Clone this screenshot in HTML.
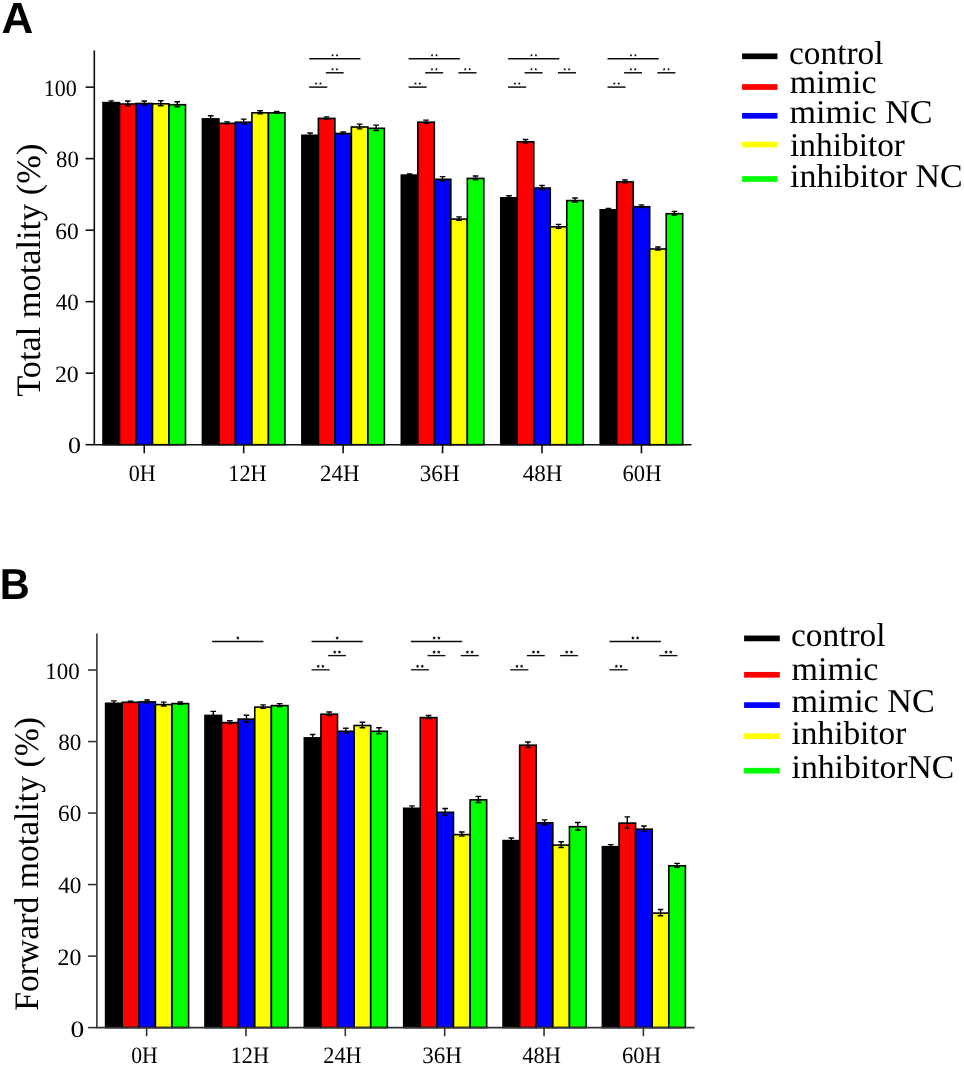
<!DOCTYPE html><html><head><meta charset="utf-8"><style>html,body{margin:0;padding:0;background:#fff;overflow:hidden;}svg{display:block;}text{text-rendering:geometricPrecision;}.s{font-family:"Liberation Serif",serif;fill:#000;}.b{font-family:"Liberation Sans",sans-serif;font-weight:bold;fill:#000;}</style></head><body>
<svg width="964" height="1066" viewBox="0 0 964 1066">
<rect width="964" height="1066" fill="#fff"/>
<defs><filter id="bl" x="0" y="0" width="964" height="1066" filterUnits="userSpaceOnUse"><feGaussianBlur stdDeviation="0.5"/></filter></defs><g filter="url(#bl)">
<rect x="103" y="102.6" width="16.5" height="342.1" fill="#000000" stroke="#000" stroke-width="1.6"/>
<rect x="119.5" y="104" width="16.5" height="340.7" fill="#ff0000" stroke="#000" stroke-width="1.6"/>
<rect x="136" y="103.5" width="16.5" height="341.2" fill="#0000ff" stroke="#000" stroke-width="1.6"/>
<rect x="152.5" y="103.8" width="16.5" height="340.9" fill="#ffff00" stroke="#000" stroke-width="1.6"/>
<rect x="169" y="104.7" width="16.5" height="340" fill="#00ff00" stroke="#000" stroke-width="1.6"/>
<path d="M111.25 100.85V103.35M108.45 100.85H114.05M108.45 103.35H114.05" stroke="#000" stroke-width="1.4" fill="none"/>
<path d="M127.75 101V106M124.95 101H130.55M124.95 106H130.55" stroke="#000" stroke-width="1.4" fill="none"/>
<path d="M144.25 101.05V104.95M141.45 101.05H147.05M141.45 104.95H147.05" stroke="#000" stroke-width="1.4" fill="none"/>
<path d="M160.75 100.8V105.8M157.95 100.8H163.55M157.95 105.8H163.55" stroke="#000" stroke-width="1.4" fill="none"/>
<path d="M177.25 101.7V106.7M174.45 101.7H180.05M174.45 106.7H180.05" stroke="#000" stroke-width="1.4" fill="none"/>
<rect x="202.44" y="118.9" width="16.5" height="325.8" fill="#000000" stroke="#000" stroke-width="1.6"/>
<rect x="218.94" y="123.3" width="16.5" height="321.4" fill="#ff0000" stroke="#000" stroke-width="1.6"/>
<rect x="235.44" y="122.2" width="16.5" height="322.5" fill="#0000ff" stroke="#000" stroke-width="1.6"/>
<rect x="251.94" y="112.8" width="16.5" height="331.9" fill="#ffff00" stroke="#000" stroke-width="1.6"/>
<rect x="268.44" y="112.8" width="16.5" height="331.9" fill="#00ff00" stroke="#000" stroke-width="1.6"/>
<path d="M210.69 115.75V121.05M207.89 115.75H213.49M207.89 121.05H213.49" stroke="#000" stroke-width="1.4" fill="none"/>
<path d="M227.19 121.85V123.75M224.39 121.85H229.99M224.39 123.75H229.99" stroke="#000" stroke-width="1.4" fill="none"/>
<path d="M243.69 119.15V124.25M240.89 119.15H246.49M240.89 124.25H246.49" stroke="#000" stroke-width="1.4" fill="none"/>
<path d="M260.19 110.75V113.85M257.39 110.75H262.99M257.39 113.85H262.99" stroke="#000" stroke-width="1.4" fill="none"/>
<path d="M276.69 111.35V113.25M273.89 111.35H279.49M273.89 113.25H279.49" stroke="#000" stroke-width="1.4" fill="none"/>
<rect x="301.88" y="135.3" width="16.5" height="309.4" fill="#000000" stroke="#000" stroke-width="1.6"/>
<rect x="318.38" y="118.4" width="16.5" height="326.3" fill="#ff0000" stroke="#000" stroke-width="1.6"/>
<rect x="334.88" y="133.5" width="16.5" height="311.2" fill="#0000ff" stroke="#000" stroke-width="1.6"/>
<rect x="351.38" y="127" width="16.5" height="317.7" fill="#ffff00" stroke="#000" stroke-width="1.6"/>
<rect x="367.88" y="128.3" width="16.5" height="316.4" fill="#00ff00" stroke="#000" stroke-width="1.6"/>
<path d="M310.13 133.05V136.55M307.33 133.05H312.93M307.33 136.55H312.93" stroke="#000" stroke-width="1.4" fill="none"/>
<path d="M326.63 116.85V118.95M323.83 116.85H329.43M323.83 118.95H329.43" stroke="#000" stroke-width="1.4" fill="none"/>
<path d="M343.13 132.05V133.95M340.33 132.05H345.93M340.33 133.95H345.93" stroke="#000" stroke-width="1.4" fill="none"/>
<path d="M359.63 124.15V128.85M356.83 124.15H362.43M356.83 128.85H362.43" stroke="#000" stroke-width="1.4" fill="none"/>
<path d="M376.13 125.15V130.45M373.33 125.15H378.93M373.33 130.45H378.93" stroke="#000" stroke-width="1.4" fill="none"/>
<rect x="401.32" y="175.1" width="16.5" height="269.6" fill="#000000" stroke="#000" stroke-width="1.6"/>
<rect x="417.82" y="122.2" width="16.5" height="322.5" fill="#ff0000" stroke="#000" stroke-width="1.6"/>
<rect x="434.32" y="179.3" width="16.5" height="265.4" fill="#0000ff" stroke="#000" stroke-width="1.6"/>
<rect x="450.82" y="219.1" width="16.5" height="225.6" fill="#ffff00" stroke="#000" stroke-width="1.6"/>
<rect x="467.32" y="178.4" width="16.5" height="266.3" fill="#00ff00" stroke="#000" stroke-width="1.6"/>
<path d="M409.57 173.95V175.25M406.77 173.95H412.37M406.77 175.25H412.37" stroke="#000" stroke-width="1.4" fill="none"/>
<path d="M426.07 120.15V123.25M423.27 120.15H428.87M423.27 123.25H428.87" stroke="#000" stroke-width="1.4" fill="none"/>
<path d="M442.57 176.65V180.95M439.77 176.65H445.37M439.77 180.95H445.37" stroke="#000" stroke-width="1.4" fill="none"/>
<path d="M459.07 216.85V220.35M456.27 216.85H461.87M456.27 220.35H461.87" stroke="#000" stroke-width="1.4" fill="none"/>
<path d="M475.57 175.95V179.85M472.77 175.95H478.37M472.77 179.85H478.37" stroke="#000" stroke-width="1.4" fill="none"/>
<rect x="500.76" y="197.8" width="16.5" height="246.9" fill="#000000" stroke="#000" stroke-width="1.6"/>
<rect x="517.26" y="141.8" width="16.5" height="302.9" fill="#ff0000" stroke="#000" stroke-width="1.6"/>
<rect x="533.76" y="188" width="16.5" height="256.7" fill="#0000ff" stroke="#000" stroke-width="1.6"/>
<rect x="550.26" y="226.8" width="16.5" height="217.9" fill="#ffff00" stroke="#000" stroke-width="1.6"/>
<rect x="566.76" y="200.6" width="16.5" height="244.1" fill="#00ff00" stroke="#000" stroke-width="1.6"/>
<path d="M509.01 195.75V198.85M506.21 195.75H511.81M506.21 198.85H511.81" stroke="#000" stroke-width="1.4" fill="none"/>
<path d="M525.51 139.55V143.05M522.71 139.55H528.31M522.71 143.05H528.31" stroke="#000" stroke-width="1.4" fill="none"/>
<path d="M542.01 185.55V189.45M539.21 185.55H544.81M539.21 189.45H544.81" stroke="#000" stroke-width="1.4" fill="none"/>
<path d="M558.51 224.35V228.25M555.71 224.35H561.31M555.71 228.25H561.31" stroke="#000" stroke-width="1.4" fill="none"/>
<path d="M575.01 197.95V202.25M572.21 197.95H577.81M572.21 202.25H577.81" stroke="#000" stroke-width="1.4" fill="none"/>
<rect x="600.2" y="209.8" width="16.5" height="234.9" fill="#000000" stroke="#000" stroke-width="1.6"/>
<rect x="616.7" y="181.9" width="16.5" height="262.8" fill="#ff0000" stroke="#000" stroke-width="1.6"/>
<rect x="633.2" y="206.7" width="16.5" height="238" fill="#0000ff" stroke="#000" stroke-width="1.6"/>
<rect x="649.7" y="249" width="16.5" height="195.7" fill="#ffff00" stroke="#000" stroke-width="1.6"/>
<rect x="666.2" y="213.7" width="16.5" height="231" fill="#00ff00" stroke="#000" stroke-width="1.6"/>
<path d="M608.45 208.35V210.25M605.65 208.35H611.25M605.65 210.25H611.25" stroke="#000" stroke-width="1.4" fill="none"/>
<path d="M624.95 179.95V182.85M622.15 179.95H627.75M622.15 182.85H627.75" stroke="#000" stroke-width="1.4" fill="none"/>
<path d="M641.45 204.85V207.55M638.65 204.85H644.25M638.65 207.55H644.25" stroke="#000" stroke-width="1.4" fill="none"/>
<path d="M657.95 246.95V250.05M655.15 246.95H660.75M655.15 250.05H660.75" stroke="#000" stroke-width="1.4" fill="none"/>
<path d="M674.45 211.35V215.05M671.65 211.35H677.25M671.65 215.05H677.25" stroke="#000" stroke-width="1.4" fill="none"/>
<path d="M94.3 50.6V444.7H691.5" stroke="#111" stroke-width="1.6" fill="none"/>
<path d="M85.6 444.7H94.3" stroke="#111" stroke-width="1.6"/>
<path d="M85.6 373.19H94.3" stroke="#111" stroke-width="1.6"/>
<path d="M85.6 301.68H94.3" stroke="#111" stroke-width="1.6"/>
<path d="M85.6 230.17H94.3" stroke="#111" stroke-width="1.6"/>
<path d="M85.6 158.66H94.3" stroke="#111" stroke-width="1.6"/>
<path d="M85.6 87.15H94.3" stroke="#111" stroke-width="1.6"/>
<path d="M144.25 444.7V453.3" stroke="#111" stroke-width="1.6"/>
<path d="M243.69 444.7V453.3" stroke="#111" stroke-width="1.6"/>
<path d="M343.13 444.7V453.3" stroke="#111" stroke-width="1.6"/>
<path d="M442.57 444.7V453.3" stroke="#111" stroke-width="1.6"/>
<path d="M542.01 444.7V453.3" stroke="#111" stroke-width="1.6"/>
<path d="M641.45 444.7V453.3" stroke="#111" stroke-width="1.6"/>
<path d="M309.18 58.7H360.48" stroke="#111" stroke-width="1.5"/>
<polygon points="332.63,53.7 333.04,54.63 334.06,54.74 333.3,55.42 333.51,56.41 332.63,55.9 331.75,56.41 331.96,55.42 331.2,54.74 332.22,54.63" fill="#000"/>
<polygon points="337.03,53.7 337.44,54.63 338.46,54.74 337.7,55.42 337.91,56.41 337.03,55.9 336.15,56.41 336.36,55.42 335.6,54.74 336.62,54.63" fill="#000"/>
<path d="M325.78 72.8H343.68" stroke="#111" stroke-width="1.5"/>
<polygon points="332.53,67.8 332.94,68.73 333.96,68.84 333.2,69.52 333.41,70.51 332.53,70 331.65,70.51 331.86,69.52 331.1,68.84 332.12,68.73" fill="#000"/>
<polygon points="336.93,67.8 337.34,68.73 338.36,68.84 337.6,69.52 337.81,70.51 336.93,70 336.05,70.51 336.26,69.52 335.5,68.84 336.52,68.73" fill="#000"/>
<path d="M309.18 87.1H327.28" stroke="#111" stroke-width="1.5"/>
<polygon points="316.03,82.1 316.44,83.03 317.46,83.14 316.7,83.82 316.91,84.81 316.03,84.3 315.15,84.81 315.36,83.82 314.6,83.14 315.62,83.03" fill="#000"/>
<polygon points="320.43,82.1 320.84,83.03 321.86,83.14 321.1,83.82 321.31,84.81 320.43,84.3 319.55,84.81 319.76,83.82 319,83.14 320.02,83.03" fill="#000"/>
<path d="M408.62 58.7H459.92" stroke="#111" stroke-width="1.5"/>
<polygon points="432.07,53.7 432.48,54.63 433.5,54.74 432.74,55.42 432.95,56.41 432.07,55.9 431.19,56.41 431.4,55.42 430.64,54.74 431.66,54.63" fill="#000"/>
<polygon points="436.47,53.7 436.88,54.63 437.9,54.74 437.14,55.42 437.35,56.41 436.47,55.9 435.59,56.41 435.8,55.42 435.04,54.74 436.06,54.63" fill="#000"/>
<path d="M425.22 72.8H443.12" stroke="#111" stroke-width="1.5"/>
<polygon points="431.97,67.8 432.38,68.73 433.4,68.84 432.64,69.52 432.85,70.51 431.97,70 431.09,70.51 431.3,69.52 430.54,68.84 431.56,68.73" fill="#000"/>
<polygon points="436.37,67.8 436.78,68.73 437.8,68.84 437.04,69.52 437.25,70.51 436.37,70 435.49,70.51 435.7,69.52 434.94,68.84 435.96,68.73" fill="#000"/>
<path d="M458.42 72.8H476.52" stroke="#111" stroke-width="1.5"/>
<polygon points="465.27,67.8 465.68,68.73 466.7,68.84 465.94,69.52 466.15,70.51 465.27,70 464.39,70.51 464.6,69.52 463.84,68.84 464.86,68.73" fill="#000"/>
<polygon points="469.67,67.8 470.08,68.73 471.1,68.84 470.34,69.52 470.55,70.51 469.67,70 468.79,70.51 469,69.52 468.24,68.84 469.26,68.73" fill="#000"/>
<path d="M408.62 87.1H426.72" stroke="#111" stroke-width="1.5"/>
<polygon points="415.47,82.1 415.88,83.03 416.9,83.14 416.14,83.82 416.35,84.81 415.47,84.3 414.59,84.81 414.8,83.82 414.04,83.14 415.06,83.03" fill="#000"/>
<polygon points="419.87,82.1 420.28,83.03 421.3,83.14 420.54,83.82 420.75,84.81 419.87,84.3 418.99,84.81 419.2,83.82 418.44,83.14 419.46,83.03" fill="#000"/>
<path d="M508.06 58.7H559.36" stroke="#111" stroke-width="1.5"/>
<polygon points="531.51,53.7 531.92,54.63 532.94,54.74 532.18,55.42 532.39,56.41 531.51,55.9 530.63,56.41 530.84,55.42 530.08,54.74 531.1,54.63" fill="#000"/>
<polygon points="535.91,53.7 536.32,54.63 537.34,54.74 536.58,55.42 536.79,56.41 535.91,55.9 535.03,56.41 535.24,55.42 534.48,54.74 535.5,54.63" fill="#000"/>
<path d="M524.66 72.8H542.56" stroke="#111" stroke-width="1.5"/>
<polygon points="531.41,67.8 531.82,68.73 532.84,68.84 532.08,69.52 532.29,70.51 531.41,70 530.53,70.51 530.74,69.52 529.98,68.84 531,68.73" fill="#000"/>
<polygon points="535.81,67.8 536.22,68.73 537.24,68.84 536.48,69.52 536.69,70.51 535.81,70 534.93,70.51 535.14,69.52 534.38,68.84 535.4,68.73" fill="#000"/>
<path d="M557.86 72.8H575.96" stroke="#111" stroke-width="1.5"/>
<polygon points="564.71,67.8 565.12,68.73 566.14,68.84 565.38,69.52 565.59,70.51 564.71,70 563.83,70.51 564.04,69.52 563.28,68.84 564.3,68.73" fill="#000"/>
<polygon points="569.11,67.8 569.52,68.73 570.54,68.84 569.78,69.52 569.99,70.51 569.11,70 568.23,70.51 568.44,69.52 567.68,68.84 568.7,68.73" fill="#000"/>
<path d="M508.06 87.1H526.16" stroke="#111" stroke-width="1.5"/>
<polygon points="514.91,82.1 515.32,83.03 516.34,83.14 515.58,83.82 515.79,84.81 514.91,84.3 514.03,84.81 514.24,83.82 513.48,83.14 514.5,83.03" fill="#000"/>
<polygon points="519.31,82.1 519.72,83.03 520.74,83.14 519.98,83.82 520.19,84.81 519.31,84.3 518.43,84.81 518.64,83.82 517.88,83.14 518.9,83.03" fill="#000"/>
<path d="M607.5 58.7H658.8" stroke="#111" stroke-width="1.5"/>
<polygon points="630.95,53.7 631.36,54.63 632.38,54.74 631.62,55.42 631.83,56.41 630.95,55.9 630.07,56.41 630.28,55.42 629.52,54.74 630.54,54.63" fill="#000"/>
<polygon points="635.35,53.7 635.76,54.63 636.78,54.74 636.02,55.42 636.23,56.41 635.35,55.9 634.47,56.41 634.68,55.42 633.92,54.74 634.94,54.63" fill="#000"/>
<path d="M624.1 72.8H642" stroke="#111" stroke-width="1.5"/>
<polygon points="630.85,67.8 631.26,68.73 632.28,68.84 631.52,69.52 631.73,70.51 630.85,70 629.97,70.51 630.18,69.52 629.42,68.84 630.44,68.73" fill="#000"/>
<polygon points="635.25,67.8 635.66,68.73 636.68,68.84 635.92,69.52 636.13,70.51 635.25,70 634.37,70.51 634.58,69.52 633.82,68.84 634.84,68.73" fill="#000"/>
<path d="M657.3 72.8H675.4" stroke="#111" stroke-width="1.5"/>
<polygon points="664.15,67.8 664.56,68.73 665.58,68.84 664.82,69.52 665.03,70.51 664.15,70 663.27,70.51 663.48,69.52 662.72,68.84 663.74,68.73" fill="#000"/>
<polygon points="668.55,67.8 668.96,68.73 669.98,68.84 669.22,69.52 669.43,70.51 668.55,70 667.67,70.51 667.88,69.52 667.12,68.84 668.14,68.73" fill="#000"/>
<path d="M607.5 87.1H625.6" stroke="#111" stroke-width="1.5"/>
<polygon points="614.35,82.1 614.76,83.03 615.78,83.14 615.02,83.82 615.23,84.81 614.35,84.3 613.47,84.81 613.68,83.82 612.92,83.14 613.94,83.03" fill="#000"/>
<polygon points="618.75,82.1 619.16,83.03 620.18,83.14 619.42,83.82 619.63,84.81 618.75,84.3 617.87,84.81 618.08,83.82 617.32,83.14 618.34,83.03" fill="#000"/>
<rect x="742.1" y="53.45" width="35.4" height="5.7" fill="#000000"/>
<rect x="742.1" y="84.15" width="35.4" height="5.7" fill="#ff0000"/>
<rect x="742.1" y="112.95" width="35.4" height="5.7" fill="#0000ff"/>
<rect x="742.1" y="141.65" width="35.4" height="5.7" fill="#ffff00"/>
<rect x="742.1" y="176.15" width="35.4" height="5.7" fill="#00ff00"/>
<rect x="105.6" y="703.3" width="16.6" height="324.3" fill="#000000" stroke="#000" stroke-width="1.6"/>
<rect x="122.2" y="702.3" width="16.6" height="325.3" fill="#ff0000" stroke="#000" stroke-width="1.6"/>
<rect x="138.8" y="701.9" width="16.6" height="325.7" fill="#0000ff" stroke="#000" stroke-width="1.6"/>
<rect x="155.4" y="704.6" width="16.6" height="323" fill="#ffff00" stroke="#000" stroke-width="1.6"/>
<rect x="172" y="703.6" width="16.6" height="324" fill="#00ff00" stroke="#000" stroke-width="1.6"/>
<path d="M113.9 700.85V704.75M111.1 700.85H116.7M111.1 704.75H116.7" stroke="#000" stroke-width="1.4" fill="none"/>
<path d="M130.5 701.2V702.4M127.7 701.2H133.3M127.7 702.4H133.3" stroke="#000" stroke-width="1.4" fill="none"/>
<path d="M147.1 700.05V702.75M144.3 700.05H149.9M144.3 702.75H149.9" stroke="#000" stroke-width="1.4" fill="none"/>
<path d="M163.7 702.15V706.05M160.9 702.15H166.5M160.9 706.05H166.5" stroke="#000" stroke-width="1.4" fill="none"/>
<path d="M180.3 701.95V704.25M177.5 701.95H183.1M177.5 704.25H183.1" stroke="#000" stroke-width="1.4" fill="none"/>
<rect x="204.96" y="715.4" width="16.6" height="312.2" fill="#000000" stroke="#000" stroke-width="1.6"/>
<rect x="221.56" y="722.6" width="16.6" height="305" fill="#ff0000" stroke="#000" stroke-width="1.6"/>
<rect x="238.16" y="719.1" width="16.6" height="308.5" fill="#0000ff" stroke="#000" stroke-width="1.6"/>
<rect x="254.76" y="707.1" width="16.6" height="320.5" fill="#ffff00" stroke="#000" stroke-width="1.6"/>
<rect x="271.36" y="705.6" width="16.6" height="322" fill="#00ff00" stroke="#000" stroke-width="1.6"/>
<path d="M213.26 711.35V718.45M210.46 711.35H216.06M210.46 718.45H216.06" stroke="#000" stroke-width="1.4" fill="none"/>
<path d="M229.86 720.75V723.45M227.06 720.75H232.66M227.06 723.45H232.66" stroke="#000" stroke-width="1.4" fill="none"/>
<path d="M246.46 715.25V721.95M243.66 715.25H249.26M243.66 721.95H249.26" stroke="#000" stroke-width="1.4" fill="none"/>
<path d="M263.06 704.85V708.35M260.26 704.85H265.86M260.26 708.35H265.86" stroke="#000" stroke-width="1.4" fill="none"/>
<path d="M279.66 703.65V706.55M276.86 703.65H282.46M276.86 706.55H282.46" stroke="#000" stroke-width="1.4" fill="none"/>
<rect x="304.32" y="737.9" width="16.6" height="289.7" fill="#000000" stroke="#000" stroke-width="1.6"/>
<rect x="320.92" y="714.2" width="16.6" height="313.4" fill="#ff0000" stroke="#000" stroke-width="1.6"/>
<rect x="337.52" y="731.3" width="16.6" height="296.3" fill="#0000ff" stroke="#000" stroke-width="1.6"/>
<rect x="354.12" y="725.5" width="16.6" height="302.1" fill="#ffff00" stroke="#000" stroke-width="1.6"/>
<rect x="370.72" y="731.3" width="16.6" height="296.3" fill="#00ff00" stroke="#000" stroke-width="1.6"/>
<path d="M312.62 734.45V740.35M309.82 734.45H315.42M309.82 740.35H315.42" stroke="#000" stroke-width="1.4" fill="none"/>
<path d="M329.22 711.95V715.45M326.42 711.95H332.02M326.42 715.45H332.02" stroke="#000" stroke-width="1.4" fill="none"/>
<path d="M345.82 728.25V733.35M343.02 728.25H348.62M343.02 733.35H348.62" stroke="#000" stroke-width="1.4" fill="none"/>
<path d="M362.42 722.25V727.75M359.62 722.25H365.22M359.62 727.75H365.22" stroke="#000" stroke-width="1.4" fill="none"/>
<path d="M379.02 727.75V733.85M376.22 727.75H381.82M376.22 733.85H381.82" stroke="#000" stroke-width="1.4" fill="none"/>
<rect x="403.68" y="808.3" width="16.6" height="219.3" fill="#000000" stroke="#000" stroke-width="1.6"/>
<rect x="420.28" y="717.6" width="16.6" height="310" fill="#ff0000" stroke="#000" stroke-width="1.6"/>
<rect x="436.88" y="812.3" width="16.6" height="215.3" fill="#0000ff" stroke="#000" stroke-width="1.6"/>
<rect x="453.48" y="834.6" width="16.6" height="193" fill="#ffff00" stroke="#000" stroke-width="1.6"/>
<rect x="470.08" y="799.9" width="16.6" height="227.7" fill="#00ff00" stroke="#000" stroke-width="1.6"/>
<path d="M411.98 805.85V809.75M409.18 805.85H414.78M409.18 809.75H414.78" stroke="#000" stroke-width="1.4" fill="none"/>
<path d="M428.58 715.55V718.65M425.78 715.55H431.38M425.78 718.65H431.38" stroke="#000" stroke-width="1.4" fill="none"/>
<path d="M445.18 808.55V815.05M442.38 808.55H447.98M442.38 815.05H447.98" stroke="#000" stroke-width="1.4" fill="none"/>
<path d="M461.78 832.05V836.15M458.98 832.05H464.58M458.98 836.15H464.58" stroke="#000" stroke-width="1.4" fill="none"/>
<path d="M478.38 796.35V802.45M475.58 796.35H481.18M475.58 802.45H481.18" stroke="#000" stroke-width="1.4" fill="none"/>
<rect x="503.04" y="840.6" width="16.6" height="187" fill="#000000" stroke="#000" stroke-width="1.6"/>
<rect x="519.64" y="745.2" width="16.6" height="282.4" fill="#ff0000" stroke="#000" stroke-width="1.6"/>
<rect x="536.24" y="822.8" width="16.6" height="204.8" fill="#0000ff" stroke="#000" stroke-width="1.6"/>
<rect x="552.84" y="845.1" width="16.6" height="182.5" fill="#ffff00" stroke="#000" stroke-width="1.6"/>
<rect x="569.44" y="826.7" width="16.6" height="200.9" fill="#00ff00" stroke="#000" stroke-width="1.6"/>
<path d="M511.34 837.95V842.25M508.54 837.95H514.14M508.54 842.25H514.14" stroke="#000" stroke-width="1.4" fill="none"/>
<path d="M527.94 741.95V747.45M525.14 741.95H530.74M525.14 747.45H530.74" stroke="#000" stroke-width="1.4" fill="none"/>
<path d="M544.54 819.85V824.75M541.74 819.85H547.34M541.74 824.75H547.34" stroke="#000" stroke-width="1.4" fill="none"/>
<path d="M561.14 841.75V847.45M558.34 841.75H563.94M558.34 847.45H563.94" stroke="#000" stroke-width="1.4" fill="none"/>
<path d="M577.74 822.45V829.95M574.94 822.45H580.54M574.94 829.95H580.54" stroke="#000" stroke-width="1.4" fill="none"/>
<rect x="602.4" y="846.7" width="16.6" height="180.9" fill="#000000" stroke="#000" stroke-width="1.6"/>
<rect x="619" y="823.1" width="16.6" height="204.5" fill="#ff0000" stroke="#000" stroke-width="1.6"/>
<rect x="635.6" y="829.2" width="16.6" height="198.4" fill="#0000ff" stroke="#000" stroke-width="1.6"/>
<rect x="652.2" y="913.1" width="16.6" height="114.5" fill="#ffff00" stroke="#000" stroke-width="1.6"/>
<rect x="668.8" y="865.8" width="16.6" height="161.8" fill="#00ff00" stroke="#000" stroke-width="1.6"/>
<path d="M610.7 844.65V847.75M607.9 844.65H613.5M607.9 847.75H613.5" stroke="#000" stroke-width="1.4" fill="none"/>
<path d="M627.3 816.85V828.35M624.5 816.85H630.1M624.5 828.35H630.1" stroke="#000" stroke-width="1.4" fill="none"/>
<path d="M643.9 826.05V831.35M641.1 826.05H646.7M641.1 831.35H646.7" stroke="#000" stroke-width="1.4" fill="none"/>
<path d="M660.5 909.45V915.75M657.7 909.45H663.3M657.7 915.75H663.3" stroke="#000" stroke-width="1.4" fill="none"/>
<path d="M677.1 863.35V867.25M674.3 863.35H679.9M674.3 867.25H679.9" stroke="#000" stroke-width="1.4" fill="none"/>
<path d="M96.9 633.4V1027.6H694.5" stroke="#333" stroke-width="1.6" fill="none"/>
<path d="M88.1 1027.6H96.9" stroke="#333" stroke-width="1.6"/>
<path d="M88.1 956.09H96.9" stroke="#333" stroke-width="1.6"/>
<path d="M88.1 884.58H96.9" stroke="#333" stroke-width="1.6"/>
<path d="M88.1 813.07H96.9" stroke="#333" stroke-width="1.6"/>
<path d="M88.1 741.56H96.9" stroke="#333" stroke-width="1.6"/>
<path d="M88.1 670.05H96.9" stroke="#333" stroke-width="1.6"/>
<path d="M146.6 1027.6V1036.2" stroke="#333" stroke-width="1.6"/>
<path d="M245.96 1027.6V1036.2" stroke="#333" stroke-width="1.6"/>
<path d="M345.32 1027.6V1036.2" stroke="#333" stroke-width="1.6"/>
<path d="M444.68 1027.6V1036.2" stroke="#333" stroke-width="1.6"/>
<path d="M544.04 1027.6V1036.2" stroke="#333" stroke-width="1.6"/>
<path d="M643.4 1027.6V1036.2" stroke="#333" stroke-width="1.6"/>
<path d="M212.16 641.5H263.46" stroke="#111" stroke-width="1.35"/>
<polygon points="237.81,636.1 238.34,637.27 239.62,637.41 238.67,638.28 238.93,639.54 237.81,638.9 236.69,639.54 236.95,638.28 236,637.41 237.28,637.27" fill="#000"/>
<path d="M311.52 641.5H362.82" stroke="#111" stroke-width="1.35"/>
<polygon points="337.17,636.1 337.7,637.27 338.98,637.41 338.03,638.28 338.29,639.54 337.17,638.9 336.05,639.54 336.31,638.28 335.36,637.41 336.64,637.27" fill="#000"/>
<path d="M328.12 655.6H346.02" stroke="#111" stroke-width="1.35"/>
<polygon points="334.72,650.2 335.25,651.37 336.53,651.51 335.58,652.38 335.84,653.64 334.72,653 333.6,653.64 333.86,652.38 332.91,651.51 334.19,651.37" fill="#000"/>
<polygon points="339.42,650.2 339.95,651.37 341.23,651.51 340.28,652.38 340.54,653.64 339.42,653 338.3,653.64 338.56,652.38 337.61,651.51 338.89,651.37" fill="#000"/>
<path d="M311.52 669.8H329.62" stroke="#111" stroke-width="1.35"/>
<polygon points="318.22,664.4 318.75,665.57 320.03,665.71 319.08,666.58 319.34,667.84 318.22,667.2 317.1,667.84 317.36,666.58 316.41,665.71 317.69,665.57" fill="#000"/>
<polygon points="322.92,664.4 323.45,665.57 324.73,665.71 323.78,666.58 324.04,667.84 322.92,667.2 321.8,667.84 322.06,666.58 321.11,665.71 322.39,665.57" fill="#000"/>
<path d="M410.88 641.5H462.18" stroke="#111" stroke-width="1.35"/>
<polygon points="434.18,636.1 434.71,637.27 435.99,637.41 435.04,638.28 435.3,639.54 434.18,638.9 433.06,639.54 433.32,638.28 432.37,637.41 433.65,637.27" fill="#000"/>
<polygon points="438.88,636.1 439.41,637.27 440.69,637.41 439.74,638.28 440,639.54 438.88,638.9 437.76,639.54 438.02,638.28 437.07,637.41 438.35,637.27" fill="#000"/>
<path d="M427.48 655.6H445.38" stroke="#111" stroke-width="1.35"/>
<polygon points="434.08,650.2 434.61,651.37 435.89,651.51 434.94,652.38 435.2,653.64 434.08,653 432.96,653.64 433.22,652.38 432.27,651.51 433.55,651.37" fill="#000"/>
<polygon points="438.78,650.2 439.31,651.37 440.59,651.51 439.64,652.38 439.9,653.64 438.78,653 437.66,653.64 437.92,652.38 436.97,651.51 438.25,651.37" fill="#000"/>
<path d="M460.68 655.6H478.78" stroke="#111" stroke-width="1.35"/>
<polygon points="467.38,650.2 467.91,651.37 469.19,651.51 468.24,652.38 468.5,653.64 467.38,653 466.26,653.64 466.52,652.38 465.57,651.51 466.85,651.37" fill="#000"/>
<polygon points="472.08,650.2 472.61,651.37 473.89,651.51 472.94,652.38 473.2,653.64 472.08,653 470.96,653.64 471.22,652.38 470.27,651.51 471.55,651.37" fill="#000"/>
<path d="M410.88 669.8H428.98" stroke="#111" stroke-width="1.35"/>
<polygon points="417.58,664.4 418.11,665.57 419.39,665.71 418.44,666.58 418.7,667.84 417.58,667.2 416.46,667.84 416.72,666.58 415.77,665.71 417.05,665.57" fill="#000"/>
<polygon points="422.28,664.4 422.81,665.57 424.09,665.71 423.14,666.58 423.4,667.84 422.28,667.2 421.16,667.84 421.42,666.58 420.47,665.71 421.75,665.57" fill="#000"/>
<path d="M526.84 655.6H544.74" stroke="#111" stroke-width="1.35"/>
<polygon points="533.44,650.2 533.97,651.37 535.25,651.51 534.3,652.38 534.56,653.64 533.44,653 532.32,653.64 532.58,652.38 531.63,651.51 532.91,651.37" fill="#000"/>
<polygon points="538.14,650.2 538.67,651.37 539.95,651.51 539,652.38 539.26,653.64 538.14,653 537.02,653.64 537.28,652.38 536.33,651.51 537.61,651.37" fill="#000"/>
<path d="M560.04 655.6H578.14" stroke="#111" stroke-width="1.35"/>
<polygon points="566.74,650.2 567.27,651.37 568.55,651.51 567.6,652.38 567.86,653.64 566.74,653 565.62,653.64 565.88,652.38 564.93,651.51 566.21,651.37" fill="#000"/>
<polygon points="571.44,650.2 571.97,651.37 573.25,651.51 572.3,652.38 572.56,653.64 571.44,653 570.32,653.64 570.58,652.38 569.63,651.51 570.91,651.37" fill="#000"/>
<path d="M510.24 669.8H528.34" stroke="#111" stroke-width="1.35"/>
<polygon points="516.94,664.4 517.47,665.57 518.75,665.71 517.8,666.58 518.06,667.84 516.94,667.2 515.82,667.84 516.08,666.58 515.13,665.71 516.41,665.57" fill="#000"/>
<polygon points="521.64,664.4 522.17,665.57 523.45,665.71 522.5,666.58 522.76,667.84 521.64,667.2 520.52,667.84 520.78,666.58 519.83,665.71 521.11,665.57" fill="#000"/>
<path d="M609.6 641.5H660.9" stroke="#111" stroke-width="1.35"/>
<polygon points="632.9,636.1 633.43,637.27 634.71,637.41 633.76,638.28 634.02,639.54 632.9,638.9 631.78,639.54 632.04,638.28 631.09,637.41 632.37,637.27" fill="#000"/>
<polygon points="637.6,636.1 638.13,637.27 639.41,637.41 638.46,638.28 638.72,639.54 637.6,638.9 636.48,639.54 636.74,638.28 635.79,637.41 637.07,637.27" fill="#000"/>
<path d="M659.4 655.6H677.5" stroke="#111" stroke-width="1.35"/>
<polygon points="666.1,650.2 666.63,651.37 667.91,651.51 666.96,652.38 667.22,653.64 666.1,653 664.98,653.64 665.24,652.38 664.29,651.51 665.57,651.37" fill="#000"/>
<polygon points="670.8,650.2 671.33,651.37 672.61,651.51 671.66,652.38 671.92,653.64 670.8,653 669.68,653.64 669.94,652.38 668.99,651.51 670.27,651.37" fill="#000"/>
<path d="M609.6 669.8H627.7" stroke="#111" stroke-width="1.35"/>
<polygon points="616.3,664.4 616.83,665.57 618.11,665.71 617.16,666.58 617.42,667.84 616.3,667.2 615.18,667.84 615.44,666.58 614.49,665.71 615.77,665.57" fill="#000"/>
<polygon points="621,664.4 621.53,665.57 622.81,665.71 621.86,666.58 622.12,667.84 621,667.2 619.88,667.84 620.14,666.58 619.19,665.71 620.47,665.57" fill="#000"/>
<rect x="744.1" y="635.55" width="35.7" height="5.7" fill="#000000"/>
<rect x="744.1" y="671.95" width="35.7" height="5.7" fill="#ff0000"/>
<rect x="744.1" y="702.25" width="35.7" height="5.7" fill="#0000ff"/>
<rect x="744.1" y="733.35" width="35.7" height="5.7" fill="#ffff00"/>
<rect x="744.1" y="767.85" width="35.7" height="5.7" fill="#00ff00"/>
<text class="b" font-size="43.58" transform="translate(1.61 33.08) scale(1.0090 1)">A</text>
<text class="b" font-size="43.41" transform="translate(-0.21 599.22) scale(0.9565 1)">B</text>
<text class="s" font-size="34.3" transform="translate(39.67 396.76) rotate(-90) scale(1.0009 1)">Total motality (%)</text>
<text class="s" font-size="34.3" transform="translate(37.77 1010.72) rotate(-90) scale(0.9818 1)">Forward motality (%)</text>
<text class="s" font-size="23.5" transform="translate(43.63 95.58) scale(0.9367 1)">100</text>
<text class="s" font-size="23.5" transform="translate(56.05 166.79) scale(0.9669 1)">80</text>
<text class="s" font-size="23.5" transform="translate(55.34 238.92) scale(0.9990 1)">60</text>
<text class="s" font-size="23.5" transform="translate(55.79 309.72) scale(0.9765 1)">40</text>
<text class="s" font-size="23.5" transform="translate(54.9 382.08) scale(1.0138 1)">20</text>
<text class="s" font-size="23.5" transform="translate(68.05 452.68) scale(1.1047 1)">0</text>
<text class="s" font-size="23.5" transform="translate(45.22 678.95) scale(0.9759 1)">100</text>
<text class="s" font-size="23.5" transform="translate(58.22 750.16) scale(0.9839 1)">80</text>
<text class="s" font-size="23.5" transform="translate(58.04 821.28) scale(0.9911 1)">60</text>
<text class="s" font-size="23.5" transform="translate(58.17 893.35) scale(0.9909 1)">40</text>
<text class="s" font-size="23.5" transform="translate(57.54 964.78) scale(1.0154 1)">20</text>
<text class="s" font-size="23.5" transform="translate(70.48 1036.55) scale(1.1689 1)">0</text>
<text class="s" font-size="23.5" transform="translate(128.77 480.83) scale(0.9374 1)">0H</text>
<text class="s" font-size="23.5" transform="translate(228.28 480.93) scale(0.9468 1)">12H</text>
<text class="s" font-size="23.5" transform="translate(320.07 480.93) scale(0.9752 1)">24H</text>
<text class="s" font-size="23.5" transform="translate(419.68 480.76) scale(0.9893 1)">36H</text>
<text class="s" font-size="23.5" transform="translate(522.71 480.8) scale(0.9844 1)">48H</text>
<text class="s" font-size="23.5" transform="translate(622.51 480.85) scale(0.9630 1)">60H</text>
<text class="s" font-size="23.5" transform="translate(131.13 1063.34) scale(0.9225 1)">0H</text>
<text class="s" font-size="23.5" transform="translate(230.7 1062.97) scale(0.9478 1)">12H</text>
<text class="s" font-size="23.5" transform="translate(323.28 1063.17) scale(0.9487 1)">24H</text>
<text class="s" font-size="23.5" transform="translate(422.3 1063.41) scale(0.9815 1)">36H</text>
<text class="s" font-size="23.5" transform="translate(522.22 1063.26) scale(0.9538 1)">48H</text>
<text class="s" font-size="23.5" transform="translate(622 1063.29) scale(0.9647 1)">60H</text>
<text class="s" font-size="33.3" transform="translate(789.06 64.24) scale(1.0019 1)">control</text>
<text class="s" font-size="33.3" transform="translate(789.69 92.88) scale(1.0221 1)">mimic</text>
<text class="s" font-size="33.3" transform="translate(789.57 123.2) scale(1.0240 1)">mimic NC</text>
<text class="s" font-size="33.3" transform="translate(790.1 156) scale(1.0012 1)">inhibitor</text>
<text class="s" font-size="33.3" transform="translate(790.03 186.9) scale(1.0199 1)">inhibitor NC</text>
<text class="s" font-size="33.3" transform="translate(791.05 645.99) scale(1.0016 1)">control</text>
<text class="s" font-size="33.3" transform="translate(791.54 679.72) scale(1.0215 1)">mimic</text>
<text class="s" font-size="33.3" transform="translate(791.53 712.42) scale(1.0255 1)">mimic NC</text>
<text class="s" font-size="33.3" transform="translate(791.53 744.47) scale(1.0015 1)">inhibitor</text>
<text class="s" font-size="33.3" transform="translate(791.61 777.9) scale(1.0109 1)">inhibitorNC</text>
</g>
</svg></body></html>
